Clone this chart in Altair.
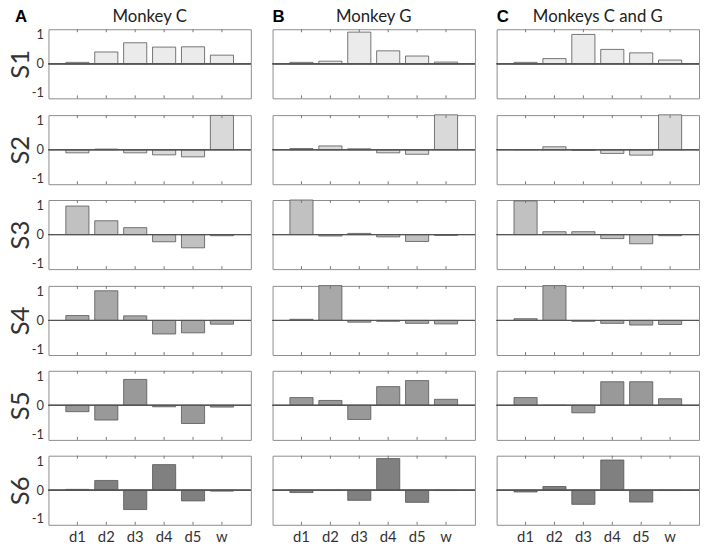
import altair as alt
import pandas as pd

categories = ["d1", "d2", "d3", "d4", "d5", "w"]
rows = ["S1", "S2", "S3", "S4", "S5", "S6"]
columns = ["Monkey C", "Monkey G", "Monkeys C and G"]
letters = ["A", "B", "C"]
row_colors = ["#ebebeb", "#d9d9d9", "#c1c1c1", "#a8a8a8", "#999999", "#808080"]

monkey_c = [
    [0.05, 0.41, 0.73, 0.58, 0.59, 0.30],
    [-0.11, 0.02, -0.11, -0.18, -0.25, 1.19],
    [0.99, 0.48, 0.24, -0.25, -0.46, -0.04],
    [0.17, 1.03, 0.16, -0.47, -0.43, -0.13],
    [-0.22, -0.51, 0.90, -0.05, -0.63, -0.06],
    [0.03, 0.34, -0.67, 0.89, -0.37, -0.03],
]
monkey_g = [
    [0.05, 0.09, 1.10, 0.45, 0.27, 0.06],
    [0.04, 0.13, 0.03, -0.11, -0.16, 1.21],
    [1.20, -0.05, 0.04, -0.08, -0.24, -0.03],
    [0.04, 1.21, -0.06, -0.03, -0.10, -0.12],
    [0.27, 0.17, -0.49, 0.65, 0.86, 0.21],
    [-0.08, -0.01, -0.35, 1.10, -0.42, -0.01],
]
monkeys_cg = [
    [0.05, 0.18, 1.02, 0.50, 0.38, 0.13],
    [0.005, 0.10, -0.02, -0.13, -0.19, 1.21],
    [1.17, 0.10, 0.10, -0.14, -0.32, -0.04],
    [0.06, 1.21, -0.03, -0.10, -0.16, -0.14],
    [0.27, 0.0, -0.26, 0.82, 0.82, 0.23],
    [-0.06, 0.13, -0.49, 1.05, -0.41, -0.01],
]
panels_data = [monkey_c, monkey_g, monkeys_cg]

W, H = 205, 70
FONT = "Lato"


def panel(ci, ri):
    vals = panels_data[ci][ri]
    df = pd.DataFrame({"cat": categories, "v": vals})
    xscale = alt.Scale(domain=categories, paddingInner=0.2, paddingOuter=0.6)
    yscale = alt.Scale(domain=[-1.2, 1.2], nice=False)

    if ri == len(rows) - 1:
        xaxis = alt.Axis(title=None, labelAngle=0, ticks=False, domain=False,
                         labelFontSize=15, labelColor="#333333", labelPadding=5,
                         labelFont=FONT)
    else:
        xaxis = None
    if ci == 0:
        yaxis = alt.Axis(values=[-1, 0, 1], title=rows[ri], titleFontSize=26,
                         titleFontWeight="normal", titleColor="#333333",
                         titleFont=FONT, titlePadding=-2,
                         labelExpr="datum.value + ''",
                         ticks=False, domain=False, grid=False,
                         labelFontSize=13, labelColor="#333333", labelPadding=5,
                         labelFont=FONT)
    else:
        yaxis = None

    base = alt.Chart(df)
    bars = base.mark_bar(color=row_colors[ri], stroke="#555555",
                         strokeWidth=0.8).encode(
        x=alt.X("cat:N", scale=xscale, sort=categories, axis=xaxis),
        y=alt.Y("v:Q", scale=yscale, axis=yaxis),
    )
    zero = base.mark_rule(color="#555555", strokeWidth=1).encode(
        y=alt.Y(datum=0, axis=yaxis, scale=yscale))
    top_ticks = base.mark_rule(color="#777777").encode(
        x=alt.X("cat:N", scale=xscale, sort=categories, axis=xaxis),
        y=alt.value(0), y2=alt.value(3))
    bot_ticks = base.mark_rule(color="#777777").encode(
        x=alt.X("cat:N", scale=xscale, sort=categories, axis=xaxis),
        y=alt.value(H), y2=alt.value(H - 3))
    layers = [bars, zero, top_ticks, bot_ticks]

    if ri == 0:
        lbl = alt.Chart(pd.DataFrame({"t": [letters[ci]]})).mark_text(
            fontWeight="bold", fontSize=17, align="left", baseline="alphabetic",
            font="Liberation Sans", color="#000000").encode(
            text="t:N",
            x=alt.value(-34 if ci == 0 else 0), y=alt.value(-7))
        ttl = alt.Chart(pd.DataFrame({"t": [columns[ci]]})).mark_text(
            fontSize=17, align="center", baseline="alphabetic",
            font=FONT, color="#222222").encode(
            text="t:N", x=alt.value(W / 2), y=alt.value(-7))
        layers += [lbl, ttl]

    return alt.layer(*layers).properties(width=W, height=H)


grid_rows = []
for ri in range(len(rows)):
    grid_rows.append(alt.hconcat(*[panel(ci, ri) for ci in range(3)], spacing=20))

chart = alt.vconcat(*grid_rows, spacing=13).properties(
    padding={"left": -1, "top": -4, "right": 0, "bottom": 0}
).configure_view(
    stroke="#8c8c8c", strokeWidth=1
)

chart.save("out.html", embed_options={"renderer": "svg", "actions": False})
